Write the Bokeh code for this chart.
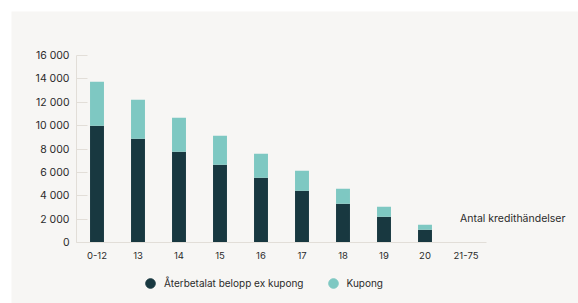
from bokeh.plotting import figure
from bokeh.models import Range1d, CustomJSTickFormatter, Legend, LegendItem, FixedTicker, ColumnDataSource, Label
from bokeh.embed import file_html
from bokeh.resources import INLINE

categories = ["0-12", "13", "14", "15", "16", "17", "18", "19", "20", "21-75"]
aterbetalat = [10000, 8870, 7760, 6650, 5540, 4420, 3310, 2200, 1090, 20]
kupong = [3750, 3340, 2910, 2480, 2050, 1715, 1285, 855, 425, 30]
y_ticks = [0, 2000, 4000, 6000, 8000, 10000, 12000, 14000, 16000]
axis_title = "Antal kredithändelser"
series_names = ["Återbetalat belopp ex kupong", "Kupong"]

DARK = "#183840"
TEAL = "#7ec8c2"
BG = "#f7f6f4"
AXIS = "#e2ded8"
TXT = "#2b2b2b"
FONT = "Inter"

# layout (pixels inside the 567x292 figure)
W, H = 567, 292
X0_PX, STEP_PX = 85.5, 41.0      # centre of first category, category spacing
Y0_PX, YTOP_PX = 231.0, 44.0     # pixel rows of y=0 and y=16000 (from top)
YMAX = 16000.0
upp = YMAX / (Y0_PX - YTOP_PX)

idx = list(range(len(categories)))
source = ColumnDataSource(dict(x=idx, a=aterbetalat, k=kupong))

p = figure(width=W, height=H,
           x_range=Range1d(-X0_PX / STEP_PX, (W - X0_PX) / STEP_PX),
           y_range=Range1d(-(H - Y0_PX) * upp, Y0_PX * upp),
           output_backend="svg", toolbar_location=None,
           min_border_left=0, min_border_right=0, min_border_top=0, min_border_bottom=0)
p.margin = (11, 0, 0, 11)
p.background_fill_color = BG
p.border_fill_color = BG
p.outline_line_color = None
p.xgrid.grid_line_color = None
p.ygrid.grid_line_color = None

p.vbar_stack(["a", "k"], x="x", width=0.34, color=[DARK, TEAL], source=source, line_color=None)

p.yaxis.fixed_location = -0.5
p.yaxis.bounds = (0, YMAX)
p.yaxis.ticker = FixedTicker(ticks=y_ticks)
p.yaxis.formatter = CustomJSTickFormatter(code="return tick.toString().replace(/\\B(?=(\\d{3})+(?!\\d))/g, ' ');")
p.yaxis.axis_line_color = AXIS
p.yaxis.major_tick_line_color = AXIS
p.yaxis.major_tick_in = 11
p.yaxis.major_tick_out = 0
p.yaxis.minor_tick_line_color = None
p.yaxis.major_label_text_font = FONT
p.yaxis.major_label_text_font_size = "10.5px"
p.yaxis.major_label_text_color = TXT
p.yaxis.major_label_standoff = 7

p.xaxis.fixed_location = 0
p.xaxis.ticker = FixedTicker(ticks=idx)
p.xaxis.major_label_overrides = {i: c for i, c in zip(idx, categories)}
p.xaxis.bounds = (-0.5, len(categories) - 0.5)
p.xaxis.axis_line_color = AXIS
p.xaxis.major_tick_line_color = None
p.xaxis.minor_tick_line_color = None
p.xaxis.major_label_text_font = FONT
p.xaxis.major_label_text_font_size = "9.5px"
p.xaxis.major_label_text_color = TXT
p.xaxis.major_label_standoff = 3

lbl = Label(x=len(categories) - 1, y=0, x_offset=-6, y_offset=24, text=axis_title,
            text_font=FONT, text_font_size="10.5px", text_color=TXT,
            text_align="left", text_baseline="middle")
p.add_layout(lbl)

# legend-only renderers (hidden; their glyphs show in the legend)
r1 = p.scatter(x="x", y="a", source=source, size=10, color=DARK, visible=False)
r2 = p.scatter(x="x", y="k", source=source, size=10, color=TEAL, visible=False)
legend = Legend(items=[LegendItem(label=series_names[0], renderers=[r1]),
                       LegendItem(label=series_names[1], renderers=[r2])],
                orientation="horizontal", location=(127, 8),
                background_fill_alpha=0, border_line_color=None,
                inactive_fill_alpha=0,
                label_text_font=FONT, label_text_font_size="10px", label_text_color=TXT,
                glyph_width=24, glyph_height=24, spacing=17, label_standoff=2,
                padding=0, margin=0, click_policy="none")
p.add_layout(legend, "center")

open("out.html", "w").write(file_html(p, INLINE))
